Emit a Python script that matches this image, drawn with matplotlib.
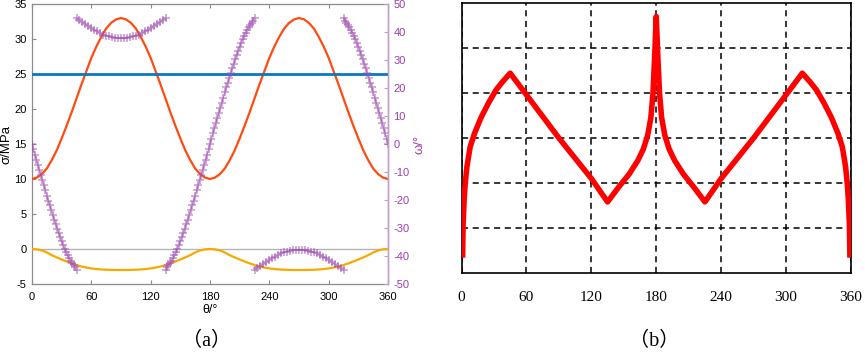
"""
Figura: (a) tensiones y ángulo omega vs theta, (b) curva normalizada vs theta
"""

import numpy as np
import matplotlib
matplotlib.use("Agg")
import matplotlib.pyplot as plt

# ---- Panel (a) ----
theta_5 = np.arange(0, 361, 5)  # puntos de lectura cada 5 grados

sigma_theta = [10.0, 10.2, 10.7, 11.5, 12.7, 14.1, 15.8, 17.6, 19.5, 21.5,
               23.5, 25.4, 27.3, 28.9, 30.3, 31.5, 32.3, 32.8, 33.0, 32.8,
               32.3, 31.5, 30.3, 28.9, 27.3, 25.4, 23.5, 21.5, 19.5, 17.6,
               15.8, 14.1, 12.7, 11.5, 10.7, 10.2, 10.0, 10.2, 10.7, 11.5,
               12.7, 14.1, 15.8, 17.6, 19.5, 21.5, 23.5, 25.4, 27.3, 28.9,
               30.3, 31.5, 32.3, 32.8, 33.0, 32.8, 32.3, 31.5, 30.3, 28.9,
               27.3, 25.4, 23.5, 21.5, 19.5, 17.6, 15.8, 14.1, 12.7, 11.5,
               10.7, 10.2, 10.0]

sigma_r = [0.0, -0.05, -0.2, -0.5, -0.88, -1.2, -1.5, -1.78, -2.05, -2.3,
           -2.5, -2.65, -2.77, -2.86, -2.92, -2.96, -2.99, -3.0, -3.0, -3.0,
           -2.99, -2.96, -2.92, -2.86, -2.77, -2.65, -2.5, -2.3, -2.05, -1.78,
           -1.5, -1.2, -0.88, -0.5, -0.2, -0.05, 0.0, -0.05, -0.2, -0.5,
           -0.88, -1.2, -1.5, -1.78, -2.05, -2.3, -2.5, -2.65, -2.77, -2.86,
           -2.92, -2.96, -2.99, -3.0, -3.0, -3.0, -2.99, -2.96, -2.92, -2.86,
           -2.77, -2.65, -2.5, -2.3, -2.05, -1.78, -1.5, -1.2, -0.88, -0.5,
           -0.2, -0.05, 0.0]

sigma_c = 25.0  # resistencia (linea horizontal)

# omega por tramos
th_seg1 = np.arange(0, 45.1, 1.5)
omega_seg1 = [0.0, -1.9, -3.8, -5.6, -7.5, -9.4, -11.2, -13.0, -14.8, -16.6,
              -18.4, -20.2, -21.9, -23.6, -25.3, -27.0, -28.6, -30.2, -31.8,
              -33.3, -34.8, -36.2, -37.5, -38.7, -39.8, -40.8, -41.7, -42.5,
              -43.3, -44.1, -45.0]

th_arc1 = np.arange(45, 135.1, 3)
omega_arc1 = [45.0, 44.2, 43.5, 42.8, 42.1, 41.4, 40.7, 40.2, 39.6, 39.1,
              38.7, 38.4, 38.1, 37.9, 37.8, 37.75, 37.8, 37.9, 38.1, 38.4,
              38.7, 39.1, 39.6, 40.2, 40.7, 41.4, 42.1, 42.8, 43.5, 44.2, 45.0]

th_seg2 = np.arange(135, 225.1, 1.5)
omega_seg2 = [-45.0, -44.1, -43.3, -42.5, -41.7, -40.8, -39.8, -38.7, -37.5,
              -36.2, -34.8, -33.3, -31.8, -30.2, -28.6, -27.0, -25.3, -23.6,
              -21.9, -20.2, -18.4, -16.6, -14.8, -13.0, -11.2, -9.4, -7.5,
              -5.6, -3.8, -1.9, 0.0, 1.9, 3.8, 5.6, 7.5, 9.4, 11.2, 13.0,
              14.8, 16.6, 18.4, 20.2, 21.9, 23.6, 25.3, 27.0, 28.6, 30.2,
              31.8, 33.3, 34.8, 36.2, 37.5, 38.7, 39.8, 40.8, 41.7, 42.5,
              43.3, 44.1, 45.0]

th_arc2 = np.arange(225, 315.1, 3)
omega_arc2 = [-45.0, -44.2, -43.5, -42.8, -42.1, -41.4, -40.7, -40.2, -39.6,
              -39.1, -38.7, -38.4, -38.1, -37.9, -37.8, -37.75, -37.8, -37.9,
              -38.1, -38.4, -38.7, -39.1, -39.6, -40.2, -40.7, -41.4, -42.1,
              -42.8, -43.5, -44.2, -45.0]

th_seg3 = np.arange(315, 360.1, 1.5)
omega_seg3 = [45.0, 44.1, 43.3, 42.5, 41.7, 40.8, 39.8, 38.7, 37.5, 36.2,
              34.8, 33.3, 31.8, 30.2, 28.6, 27.0, 25.3, 23.6, 21.9, 20.2,
              18.4, 16.6, 14.8, 13.0, 11.2, 9.4, 7.5, 5.6, 3.8, 1.9, 0.0]

# ---- Panel (b) ----
b_theta = [1.0, 1.5, 2.5, 3.5, 5, 8, 12, 18, 25, 32, 38, 45, 60, 90, 120,
           135, 145, 155, 163, 168, 172, 175, 177, 178.5, 179.5, 180,
           180.5, 181.5, 183, 185, 188, 192, 197, 205, 215, 225, 240, 270,
           300, 315, 322, 328, 335, 342, 348, 352, 355, 356.5, 357.5, 358.5,
           359.0]
b_vals = [0.34, 1.1, 1.65, 2.0, 2.36, 2.8, 3.1, 3.45, 3.78, 4.07, 4.25, 4.44,
          3.96, 3.0, 2.1, 1.58, 1.9, 2.2, 2.5, 2.75, 3.05, 3.45, 4.0, 4.8,
          5.4, 5.7, 5.4, 4.8, 4.0, 3.45, 3.05, 2.75, 2.5, 2.2, 1.9, 1.58,
          2.1, 3.0, 3.96, 4.44, 4.25, 4.07, 3.78, 3.45, 3.1, 2.8, 2.36, 2.0,
          1.65, 1.1, 0.34]

x_ticks = [0, 60, 120, 180, 240, 300, 360]

PURPLE = "#9b3fa8"
PURPLE_LIGHT = "#c79ad0"
GRAY = "#8c8c8c"
SERIF = ["Liberation Serif", "Noto Sans CJK SC"]


def panel_a(fig):
    ax = fig.add_axes([32 / 865, 68 / 352, 356 / 865, 280 / 352])
    ax.axhline(0, color="#b4b4b4", lw=1.0, zorder=1)
    ax.plot(theta_5, sigma_theta, color="#ff4a12", lw=1.6, zorder=3)
    ax.axhline(sigma_c, color="#0a78c0", lw=2.0, zorder=3)
    ax.plot(theta_5, sigma_r, color="#f8a800", lw=1.6, zorder=3)

    ax.set_xlim(0, 360)
    ax.set_ylim(-5, 35)
    ax.set_xticks(x_ticks)
    ax.set_yticks(range(-5, 36, 5))
    for s in ax.spines.values():
        s.set_color(GRAY)
        s.set_linewidth(0.9)
    ax.tick_params(direction="in", length=3, width=0.8, color=GRAY,
                   labelsize=8, top=True, pad=4)
    ax.tick_params(axis="x", pad=6)
    ax.set_xlabel("θ/°", fontsize=9, labelpad=1)
    ax.set_ylabel("σ/MPa", fontsize=9.5, labelpad=1)

    ax2 = ax.twinx()
    segs = [(th_seg1, omega_seg1), (th_arc1, omega_arc1), (th_seg2, omega_seg2),
            (th_arc2, omega_arc2), (th_seg3, omega_seg3)]
    for th, om in segs:
        ax2.plot(th, om, color=PURPLE, lw=0.9, alpha=0.5)
        ax2.plot(th, om, ls="none", marker="+", ms=6, mew=1.1,
                 color="#a050b4", alpha=0.6)
    ax2.set_ylim(-50, 50)
    ax2.set_yticks(range(-50, 51, 10))
    ax2.spines["right"].set_color(PURPLE_LIGHT)
    ax2.spines["right"].set_linewidth(1.0)
    for k in ["left", "top", "bottom"]:
        ax2.spines[k].set_visible(False)
    ax2.tick_params(direction="in", length=3, width=0.8, color=PURPLE_LIGHT,
                    labelcolor=PURPLE, labelsize=8, pad=4)
    ax2.set_ylabel("ω/°", fontsize=9.5, color=PURPLE, labelpad=3)

    fig.text(207 / 865, 1 - 341 / 352, "（a）", ha="center", va="center",
             fontsize=14.5, family=SERIF)


def panel_b(fig):
    ax = fig.add_axes([461.5 / 865, 79 / 352, 389.5 / 865, 270 / 352])
    ax.plot(b_theta, b_vals, color="#ff0000", lw=4.0,
            solid_joinstyle="round", solid_capstyle="butt", zorder=3)
    ax.set_xlim(0, 360)
    ax.set_ylim(0, 6)
    ax.set_xticks(x_ticks)
    ax.set_yticks([1, 2, 3, 4, 5])
    ax.set_yticklabels([])
    ax.grid(True, color="black", linestyle=(0, (4, 3)), linewidth=1.1)
    for s in ax.spines.values():
        s.set_color("black")
        s.set_linewidth(1.2)
    ax.tick_params(length=0, labelsize=11, pad=13)
    for lb in ax.get_xticklabels():
        lb.set_fontfamily(SERIF)

    fig.text(654 / 865, 1 - 341 / 352, "（b）", ha="center", va="center",
             fontsize=14.5, family=SERIF)


def main():
    plt.rcParams["font.family"] = ["Liberation Sans", "DejaVu Sans"]
    plt.rcParams["axes.unicode_minus"] = False
    fig = plt.figure(figsize=(8.65, 3.52), dpi=100)
    panel_a(fig)
    panel_b(fig)
    fig.savefig("out.png", dpi=100)


if __name__ == "__main__":
    main()
